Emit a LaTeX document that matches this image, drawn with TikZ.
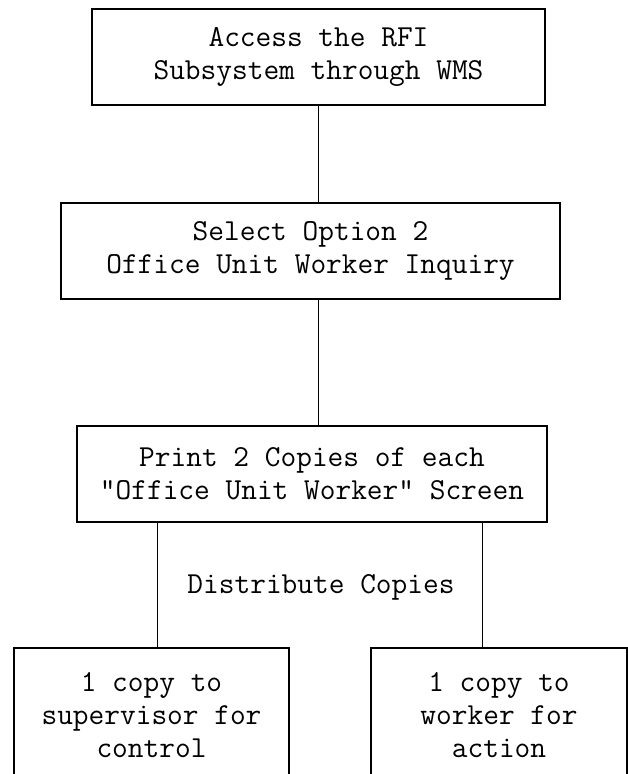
\documentclass[tikz,border=0pt]{standalone}
\usetikzlibrary{calc}

\tikzset{
  flowbox/.style={draw, line width=1.4pt, align=center, inner sep=0pt,
    font=\ttfamily\fontsize{30.5}{33}\selectfont},
  flowtext/.style={align=center, inner sep=0pt,
    font=\ttfamily\fontsize{30.5}{33}\selectfont},
}

\begin{document}
\begin{tikzpicture}[x=1pt, y=-1pt, line width=1.4pt]

      \path[use as bounding box, clip] (0,0) rectangle (628,774);

      % Draw the boxes
      \node[flowbox, minimum width=453pt, minimum height=96pt] (access) at (318.5,57)
        {Access the RFI\\Subsystem through WMS};
      \node[flowbox, minimum width=499pt, minimum height=96pt] (select) at (310.5,251)
        {Select Option 2\\Office Unit Worker Inquiry};
      \node[flowbox, minimum width=470pt, minimum height=96pt] (print) at (312,474)
        {Print 2 Copies of each\\"Office Unit Worker" Screen};
      \node[flowbox, minimum width=275pt, minimum height=134pt] (super) at (151.5,715)
        {1 copy to\\supervisor for\\control};
      \node[flowbox, minimum width=256pt, minimum height=134pt] (worker) at (499,715)
        {1 copy to\\worker for\\action};

      \node[flowtext] (distribute) at (321,587) {Distribute Copies};

      % connectors
      \draw (access.south) -- (access.south |- select.north);
      \draw (access.south |- select.south) -- (access.south |- print.north);

      \coordinate (L) at ($(print.south west)+(81,0)$);
      \coordinate (R) at ($(print.south west)+(406,0)$);
      \draw (L) -- (L |- super.north);
      \draw (R) -- (R |- worker.north);

\end{tikzpicture}
\end{document}
